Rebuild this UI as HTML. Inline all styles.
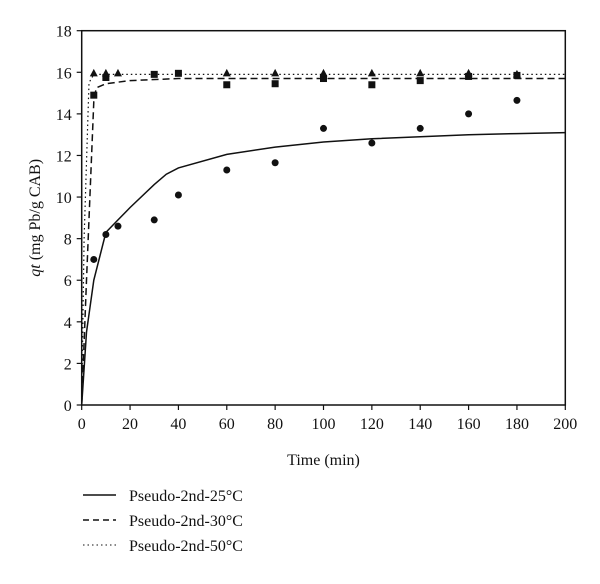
<!DOCTYPE html>
<html><head><meta charset="utf-8"><style>
body{margin:0;background:#fff;width:600px;height:579px;overflow:hidden}
svg text{font-family:"Liberation Serif",serif;fill:#111}
</style></head><body>
<svg id="chart" width="600" height="579" xmlns="http://www.w3.org/2000/svg">
<g id="axes"></g><g id="marks"></g>
<g>
 <line x1="83" y1="495" x2="116" y2="495" stroke="#111" stroke-width="1.5"/>
 <text x="129" y="501" font-size="16">Pseudo-2nd-25°C</text>
 <line x1="83" y1="520" x2="116" y2="520" stroke="#111" stroke-width="1.5" stroke-dasharray="6,4"/>
 <text x="129" y="526" font-size="16">Pseudo-2nd-30°C</text>
 <line x1="83" y1="545" x2="116" y2="545" stroke="#111" stroke-width="1" stroke-dasharray="1.5,3"/>
 <text x="129" y="551" font-size="16">Pseudo-2nd-50°C</text>
</g>
</svg>
<script>
const xTicks=[0,20,40,60,80,100,120,140,160,180,200];
const yTicks=[0,2,4,6,8,10,12,14,16,18];
const t25=[5,10,15,30,40,60,80,100,120,140,160,180];
const q25=[7,8.2,8.6,8.9,10.1,11.3,11.65,13.3,12.6,13.3,14,14.65];
const t30=[5,10,30,40,60,80,100,120,140,160,180];
const q30=[14.9,15.75,15.9,15.95,15.4,15.45,15.7,15.4,15.6,15.8,15.85];
const t50=[5,10,15,60,80,100,120,140,160,180];
const q50=[15.95,15.95,15.95,15.95,15.95,15.95,15.95,15.95,15.95,15.9];
const f25t=[0,2,5,10,15,20,30,35,40,60,80,100,120,140,160,180,200];
const f25q=[0,3.5,6,8.3,8.9,9.5,10.6,11.1,11.4,12.05,12.4,12.65,12.8,12.9,13,13.05,13.1];
const f30t=[0,2,5,6,10,20,40,200];
const f30q=[0,6,14.6,15.25,15.45,15.6,15.7,15.7];
const f50t=[0,1,3,5,200];
const f50q=[0,8,15.5,15.9,15.9];
const X0=81.7,X1=565.3,Y0=405,Y1=30.7;
const sx=v=>X0+(X1-X0)*v/200, sy=v=>Y0-(Y0-Y1)*v/18;
const NS="http://www.w3.org/2000/svg";
const axes=document.getElementById('axes'), marks=document.getElementById('marks');
function mk(tag,attrs,parent){const e=document.createElementNS(NS,tag);for(const k in attrs)e.setAttribute(k,attrs[k]);parent.appendChild(e);return e;}
const frame=mk('rect',{x:X0,y:Y1,width:X1-X0,height:Y0-Y1,fill:'none',stroke:'#111','stroke-width':1.5},axes);


xTicks.forEach(v=>{
 const l=mk('line',{x1:sx(v),x2:sx(v),y1:Y0,y2:Y0+5,stroke:'#111','stroke-width':1.2},axes);
 
 
 const t=mk('text',{x:sx(v),y:Y0+24,'font-size':16,'text-anchor':'middle'},axes);t.textContent=v;
 
 
});
yTicks.forEach(v=>{
 const l=mk('line',{x1:X0-5,x2:X0,y1:sy(v),y2:sy(v),stroke:'#111','stroke-width':1.2},axes);
 
 
 const t=mk('text',{x:X0-10,y:sy(v)+6,'font-size':16,'text-anchor':'end'},axes);t.textContent=v;
 
 
});
const xt=mk('text',{x:(X0+X1)/2,y:465,'font-size':16,'text-anchor':'middle'},axes);xt.textContent='Time (min)';


const yt=mk('text',{x:0,y:0,'font-size':16,'text-anchor':'middle',transform:`translate(40,${(Y0+Y1)/2}) rotate(-90)`},axes);
yt.innerHTML='<tspan font-style="italic">qt</tspan> (mg Pb/g CAB)';


function curve(ts,qs,dash,name,w){
 const d=ts.map((t,i)=>(i?'L':'M')+sx(t).toFixed(1)+','+sy(qs[i]).toFixed(1)).join(' ');
 const p=mk('path',{d:d,fill:'none',stroke:'#111','stroke-width':w,'stroke-dasharray':dash},marks);
 
 
}
curve(f25t,f25q,'none','fit-line-25c',1.5);
curve(f30t,f30q,'7,4','fit-line-30c',1.5);
curve(f50t,f50q,'1.5,3','fit-line-50c',1.2);
t25.forEach((t,i)=>{const c=mk('circle',{cx:sx(t),cy:sy(q25[i]),r:3.5,fill:'#111'},marks);
 
 });
t30.forEach((t,i)=>{const c=mk('rect',{x:sx(t)-3.5,y:sy(q30[i])-3.5,width:7,height:7,fill:'#111'},marks);
 
 });
t50.forEach((t,i)=>{const x=sx(t),y=sy(q50[i]);const c=mk('polygon',{points:`${x},${y-4.5} ${x-4},${y+3} ${x+4},${y+3}`,fill:'#111'},marks);
 
 });
</script>
</body></html>
